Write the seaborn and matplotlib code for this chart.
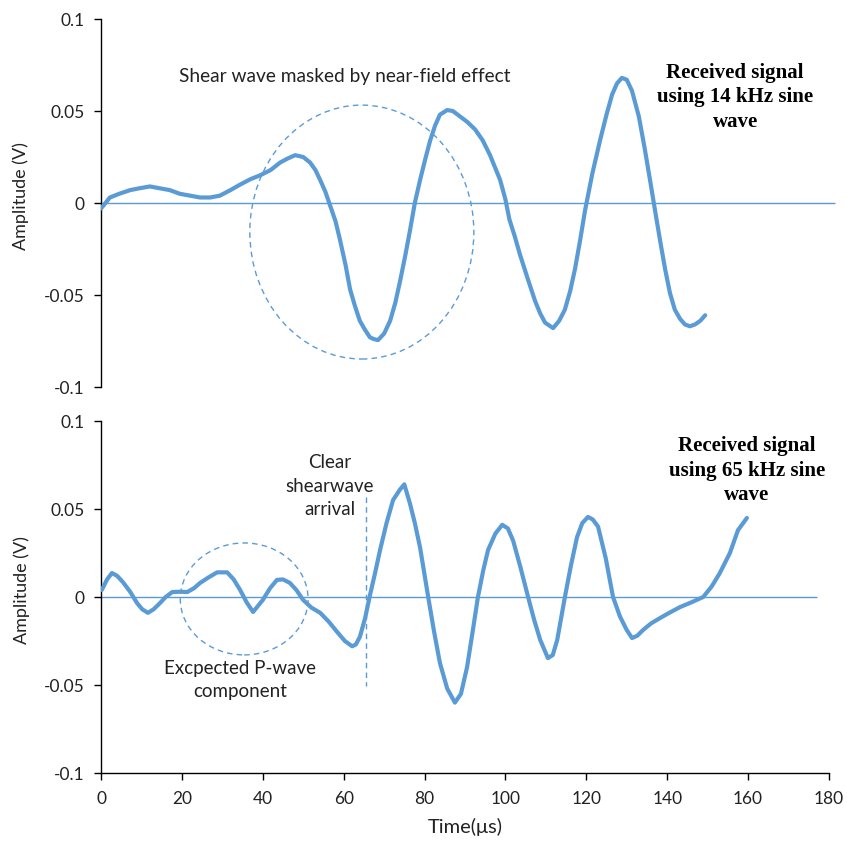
import matplotlib
matplotlib.use("Agg")
import matplotlib.pyplot as plt
from matplotlib.patches import Ellipse
import seaborn as sns
import pandas as pd

# ---- data: top panel (14 kHz) ----
t_top = [0, 2.2, 4.5, 7.2, 9.5, 12.1, 14.5, 17, 19.5, 22, 24.5, 27, 29.4, 32, 34.4, 37, 39.3,
         42, 44.3, 46, 48, 50, 51.7, 53, 54.2, 55.5, 56.6, 58, 59.1, 60.5, 61.6, 62.8, 64, 65.3,
         66.5, 67.5, 68.5, 70, 71.5, 72.8, 74, 75.2, 76.4, 77.6, 78.9, 80.2, 81.4, 82.6, 83.8, 85.6,
         87, 88.8, 90.6, 92.5, 94.4, 96.2, 97.5, 98.7, 100, 101, 102.3, 103.6, 105.5, 107.3, 108.6,
         109.8, 111.8, 113.3, 114.7, 116, 117.2, 118.5, 119.7, 121.5, 123.4, 125, 126.4, 127.6, 128.8,
         130, 131.3, 133, 134.5, 135.8, 137, 138.3, 139.5, 140.7, 141.9, 143.2, 144.4, 145.6, 146.9,
         148.2, 149.4]
v_top = [-0.003, 0.003, 0.005, 0.007, 0.008, 0.009, 0.008, 0.007, 0.005, 0.004, 0.003, 0.003, 0.004,
         0.007, 0.010, 0.013, 0.015, 0.018, 0.022, 0.024, 0.026, 0.025, 0.022, 0.018, 0.0125, 0.006,
         -0.001, -0.010, -0.020, -0.034, -0.047, -0.056, -0.064, -0.069, -0.073, -0.074, -0.0745,
         -0.071, -0.064, -0.054, -0.042, -0.029, -0.015, 0.000, 0.0125, 0.024, 0.034, 0.042, 0.048,
         0.0505, 0.050, 0.047, 0.044, 0.040, 0.034, 0.026, 0.019, 0.0125, 0.002, -0.009, -0.018,
         -0.028, -0.041, -0.053, -0.060, -0.065, -0.068, -0.064, -0.058, -0.048, -0.036, -0.020,
         -0.004, 0.016, 0.034, 0.048, 0.059, 0.065, 0.068, 0.067, 0.061, 0.047, 0.029, 0.012, -0.004,
         -0.021, -0.036, -0.049, -0.058, -0.063, -0.066, -0.067, -0.066, -0.064, -0.061]

# ---- data: bottom panel (65 kHz) ----
t_bot = [0.2, 1.5, 2.7, 4, 5.4, 7.2, 8.9, 10.2, 11.6, 13, 14.6, 16, 17.6, 19.5, 21.3, 23, 24.5,
         26.5, 28.7, 31.2, 32.8, 34.4, 36, 37.6, 40, 41.8, 43.5, 45, 46.7, 48.3, 50, 52, 54.2, 56.3,
         58.4, 60.3, 62.1, 63, 64, 65.3, 66.5, 67.8, 69, 70.6, 72.2, 73.9, 75, 76.4, 77.6, 78.9,
         80.9, 82.3, 83.8, 85.6, 87.5, 89, 90.5, 91.8, 93.2, 94.5, 95.7, 97.5, 99.2, 100.6, 101.9,
         103.7, 105.6, 107.1, 108.6, 110.5, 111.7, 112.8, 114.7, 116.2, 117.7, 119, 120.4, 121.6,
         122.9, 124.8, 126.6, 128.3, 130, 131.3, 132.6, 134, 136, 138.2, 140.5, 143.2, 146, 148.9,
         151, 153, 155.5, 157.5, 159.7]
v_bot = [0.004, 0.010, 0.0136, 0.012, 0.0085, 0.003, -0.0034, -0.007, -0.009, -0.007, -0.0034,
         0.000, 0.0028, 0.003, 0.0028, 0.005, 0.008, 0.011, 0.014, 0.014, 0.010, 0.004, -0.003,
         -0.0085, -0.0017, 0.005, 0.0097, 0.010, 0.008, 0.004, -0.0017, -0.006, -0.009, -0.014,
         -0.0199, -0.025, -0.028, -0.027, -0.0227, -0.012, 0.001, 0.014, 0.0267, 0.042, 0.055, 0.061,
         0.064, 0.053, 0.042, 0.028, 0.000, -0.019, -0.0375, -0.052, -0.060, -0.055, -0.040, -0.021,
         0.000, 0.015, 0.0267, 0.036, 0.041, 0.039, 0.032, 0.017, 0.000, -0.013, -0.0244, -0.0347,
         -0.033, -0.0244, 0.000, 0.018, 0.034, 0.042, 0.0455, 0.044, 0.040, 0.022, 0.000, -0.011,
         -0.0188, -0.0233, -0.022, -0.0188, -0.015, -0.012, -0.009, -0.0057, -0.003, 0.000, 0.006,
         0.0136, 0.025, 0.038, 0.0449]

y_ticks = [-0.1, -0.05, 0, 0.05, 0.1]
y_tick_labels = ["-0.1", "-0.05", "0", "0.05", "0.1"]
x_ticks = [0, 20, 40, 60, 80, 100, 120, 140, 160, 180]
x_tick_labels = ["0", "20", "40", "60", "80", "100", "120", "140", "160", "180"]

df_top = pd.DataFrame({"t": t_top, "v": v_top})
df_bot = pd.DataFrame({"t": t_bot, "v": v_bot})

sns.set_theme(style="white")
plt.rcParams["font.family"] = ["Lato", "DejaVu Sans"]

BLUE = "#5B9BD5"
TXT = "#222222"
W, H = 847, 846
fig = plt.figure(figsize=(W / 100, H / 100), dpi=100)

ax1 = fig.add_axes([101 / W, 1 - 387 / H, 736 / W, 368 / H])
ax2 = fig.add_axes([101 / W, 1 - 773 / H, 728 / W, 352 / H])

for ax, df, xend in [(ax1, df_top, 181.5), (ax2, df_bot, 177)]:
    ax.hlines(0, 0, xend, color=BLUE, lw=1.0, zorder=1)
    sns.lineplot(data=df, x="t", y="v", ax=ax, color=BLUE, lw=3.0, zorder=3)
    ax.set_ylim(-0.1, 0.1)
    ax.set_yticks(y_ticks)
    ax.set_yticklabels(y_tick_labels)
    ax.set_ylabel("Amplitude (V)", fontsize=13, color=TXT)
    ax.yaxis.set_label_coords(-0.098, 0.52)
    for s in ["top", "right"]:
        ax.spines[s].set_visible(False)
    ax.spines["left"].set_color("black")
    ax.spines["left"].set_linewidth(1.0)
    ax.tick_params(axis="y", direction="out", length=5, width=1, color="black",
                   labelsize=12.5, labelcolor=TXT, left=True, pad=7)

ax1.set_xlim(0, 182)
ax1.spines["bottom"].set_visible(False)
ax1.set_xticks([])
ax1.set_xlabel("")

ax2.set_xlim(0, 180)
ax2.set_xticks(x_ticks)
ax2.set_xticklabels(x_tick_labels)
ax2.spines["bottom"].set_color("black")
ax2.spines["bottom"].set_linewidth(1.0)
ax2.tick_params(axis="x", direction="out", length=5, width=1, color="black",
                labelsize=12.5, labelcolor=TXT, bottom=True, pad=8)
ax2.set_xlabel("Time(\u03bcs)", fontsize=14.5, color=TXT, labelpad=8)

# annotations, top
ax1.add_patch(Ellipse((64.5, -0.0158), 55.4, 0.138, fill=False, ec=BLUE, lw=1.0,
                      ls=(0, (4, 3)), zorder=2))
ax1.text(60.3, 0.0685, "Shear wave masked by near-field effect", ha="center", va="center",
         fontsize=13.8, color=TXT)
ax1.text(156.8, 0.0576, "Received signal\nusing 14 kHz sine\nwave", ha="center", va="center",
         fontsize=15, fontweight="bold", family=["Liberation Serif", "DejaVu Serif"],
         linespacing=1.3, color="black")

# annotations, bottom
ax2.add_patch(Ellipse((35.4, -0.0011), 31.6, 0.0636, fill=False, ec=BLUE, lw=1.0,
                      ls=(0, (4, 3)), zorder=2))
ax2.plot([65.5, 65.5], [0.057, -0.0506], color=BLUE, lw=1.0, ls=(0, (4, 3)), zorder=2)
ax2.text(56.6, 0.063, "Clear\nshearwave\narrival", ha="center", va="center",
         fontsize=13.5, color=TXT, linespacing=1.45)
ax2.text(34.4, -0.047, "Excpected P-wave\ncomponent", ha="center", va="center",
         fontsize=13.5, color=TXT, linespacing=1.4)
ax2.text(159.7, 0.0716, "Received signal\nusing 65 kHz sine\nwave", ha="center", va="center",
         fontsize=15, fontweight="bold", family=["Liberation Serif", "DejaVu Serif"],
         linespacing=1.3, color="black")

fig.savefig("out.png", dpi=100)
